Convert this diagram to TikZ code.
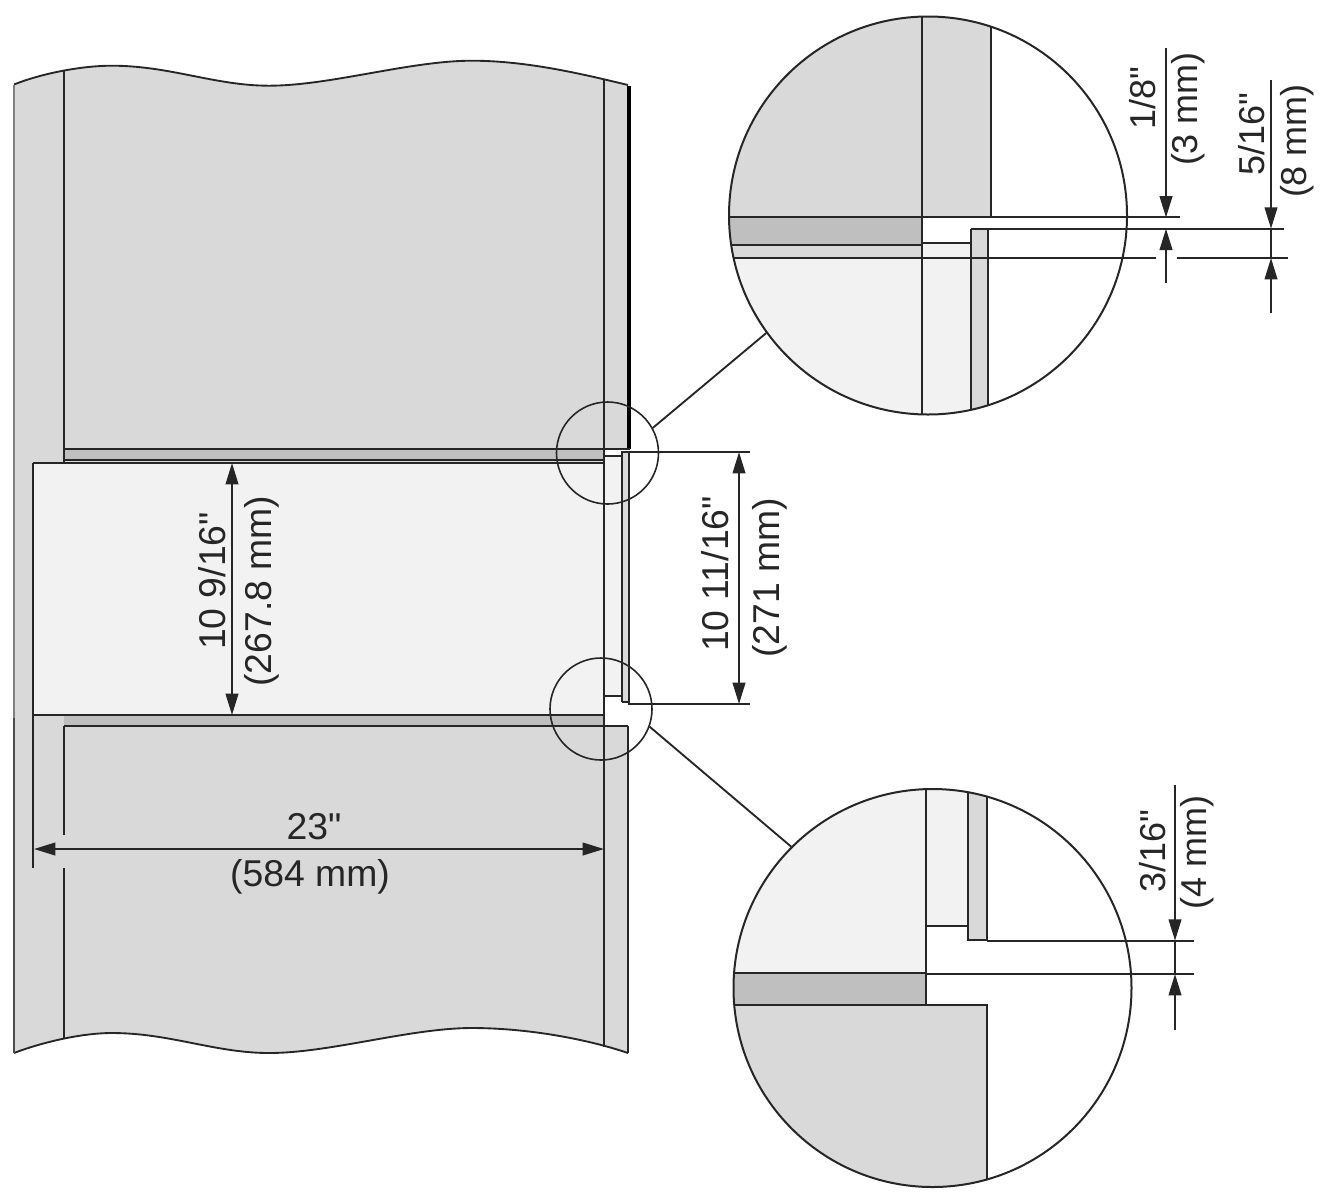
\documentclass[tikz,border=0pt]{standalone}
\usepackage{fontspec}
\newfontfamily\dimfont{Liberation Sans}
\usetikzlibrary{arrows.meta}
\definecolor{wallgray}{HTML}{D9D9D9}
\definecolor{bandgray}{HTML}{BFBFBF}
\definecolor{ovenlight}{HTML}{F2F2F2}
\definecolor{inkgray}{HTML}{262626}
\tikzset{
  outline/.style = {draw = inkgray, line width = 1.4pt},
  dimline/.style = {draw = inkgray, line width = 1.4pt},
  dimarrow/.style = {dimline, -{Triangle[length = 16pt, width = 9.5pt]}},
  dimboth/.style = {dimline, {Triangle[length = 16pt, width = 9.5pt]}-{Triangle[length = 16pt, width = 9.5pt]}},
  dimtext/.style = {inkgray, font = \dimfont\fontsize{28}{30}\selectfont, inner sep = 0pt},
  smalltext/.style = {dimtext, rotate = 90, font = \dimfont\fontsize{27}{30}\selectfont},
  lens/.style = {circle, draw = inkgray, line width = 1.2pt, inner sep = 0pt, minimum size = 76.5pt},
  biglens/.style = {circle, draw = inkgray, line width = 1.5pt, inner sep = 0pt, minimum size = 298.5pt}
}
\begin{document}
\begin{tikzpicture}[x = 0.75pt, y = -0.75pt]
\useasboundingbox (0,0) rectangle (1326,1193);
\def\wavetop{(14,84.5) .. controls (40,74) and (80,65.7) .. (112,65.7) .. controls (170,65.7) and (215,85.7) .. (269,85.7) .. controls (330,85.7) and (410,60.7) .. (472,60.7) .. controls (530,60.7) and (590,76) .. (628,85)}
\def\wavebottom{(628,1053) .. controls (590,1040) and (530,1028) .. (472,1028) .. controls (410,1028) and (330,1053) .. (269,1053) .. controls (215,1053) and (170,1033) .. (112,1033) .. controls (80,1033) and (40,1043) .. (14,1053)}
% wall and oven
\fill[wallgray] \wavetop -- (628,448) -- (604,448) -- (604,463) -- (33,463) -- (33,715) -- (604,715) -- (604,726) -- (628,726) -- \wavebottom -- cycle;
\fill[ovenlight] (33,463) rectangle (604,715);
\fill[bandgray] (64,449) rectangle (604,460);
\fill[bandgray] (64,715) rectangle (604,726);
\fill[ovenlight] (604,456) rectangle (622,696);
\fill[wallgray] (622,452) rectangle (629,702);
\draw[outline] \wavetop;
\draw[outline] \wavebottom;
\draw[outline, draw = gray] (14,84.5) -- (14,718);
\draw[outline, draw = black!70] (14,718) -- (14,1053);
\draw[outline] (64,71) -- (64,463);
\draw[outline] (64,726) -- (64,835);
\draw[outline] (64,868) -- (64,1039);
\draw[outline] (604,79) -- (604,1047);
\draw[black, line width = 2.8pt] (629,86) -- (629,449);
\draw[outline] (628,726) -- (628,1053);
\draw[outline] (64,449) -- (630,449);
\draw[outline] (64,460) -- (604,460);
\draw[outline] (33,463) -- (604,463);
\draw[outline] (33,463) -- (33,868);
\draw[outline] (33,715) -- (604,715);
\draw[outline] (64,726) -- (628,726);
\draw[outline] (604,456) -- (622,456);
\draw[outline] (604,696) -- (622,696);
\draw[outline] (622,702) -- (622,452) -- (750,452);
\draw[outline] (629,452) -- (629,704) -- (750,704);
\draw[outline] (622,702) -- (629,702);
% small lenses
\node[lens] (lensA) at (607.5,453) {};
\node[lens] (lensB) at (601,709) {};
% upper detail
\begin{scope}
\clip (928,215.5) circle (199);
\fill[wallgray] (729,16) rectangle (990.7,217);
\fill[bandgray] (729,217) rectangle (922,245);
\fill[wallgray] (729,245) rectangle (922,258);
\fill[ovenlight] (729,258) rectangle (922,415);
\fill[ovenlight] (922,243) rectangle (971,415);
\fill[wallgray] (971,228.7) rectangle (988,415);
\draw[outline] (922,16) -- (922,415);
\draw[outline] (990.7,16) -- (990.7,217);
\draw[outline] (729,245) -- (922,245);
\draw[outline] (922,243) -- (971,243);
\draw[outline] (971,415) -- (971,228.7);
\draw[outline] (988,228.7) -- (988,415);
\draw[outline] (729,217) -- (922,217);
\draw[outline] (729,258) -- (922,258);
\end{scope}
\node[biglens] (bigA) at (928,215.5) {};
\draw[dimline] (922,217) -- (1180,217);
\draw[dimline] (971,228.7) -- (1284,228.7);
\draw[dimline] (922,258) -- (1156,258);
\draw[dimline] (1177,258) -- (1288,258);
\draw[dimline] (lensA.29) -- (bigA.216);
% lower detail
\begin{scope}
\clip (932.5,988) circle (199);
\fill[ovenlight] (733,789) rectangle (926,973);
\fill[ovenlight] (926,789) rectangle (968,926);
\fill[wallgray] (968,789) rectangle (987,940);
\fill[bandgray] (733,973) rectangle (926,1005);
\fill[wallgray] (733,1005) rectangle (987,1187);
\draw[outline] (926,789) -- (926,1005);
\draw[outline] (926,926) -- (968,926);
\draw[outline] (968,789) -- (968,940) -- (987,940) -- (987,789);
\draw[outline] (733,973) -- (926,973);
\draw[outline] (733,1005) -- (987,1005) -- (987,1187);
\end{scope}
\node[biglens] (bigB) at (932.5,988) {};
\draw[dimline] (987,940.7) -- (1194,940.7);
\draw[dimline] (926,974) -- (1194,974);
\draw[dimline] (lensB.-20) -- (bigB.135);
% dimensions
\coordinate (widthL) at (34,849);
\coordinate (widthR) at (604,849);
\coordinate (openT) at (232,463);
\coordinate (openB) at (232,715);
\coordinate (doorT) at (739,452);
\coordinate (doorB) at (739,704);
\draw[dimboth] (widthL) -- (widthR);
\draw[dimboth] (openT) -- (openB);
\draw[dimboth] (doorT) -- (doorB);
\coordinate (gapAtop) at (1166,48);
\coordinate (gapAup) at (1166,217.5);
\coordinate (gapAlow) at (1166,228.7);
\coordinate (gapAend) at (1166,283);
\draw[dimarrow] (gapAtop) -- (gapAup);
\draw[dimarrow] (gapAend) -- (gapAlow);
\coordinate (gapBtop) at (1271,80);
\coordinate (gapBup) at (1271,228.7);
\coordinate (gapBlow) at (1271,258);
\coordinate (gapBend) at (1271,313);
\draw[dimarrow] (gapBtop) -- (gapBup);
\draw[dimline] (gapBup) -- (gapBlow);
\draw[dimarrow] (gapBend) -- (gapBlow);
\coordinate (gapCtop) at (1175,785);
\coordinate (gapCup) at (1175,940.7);
\coordinate (gapClow) at (1175,974);
\coordinate (gapCend) at (1175,1030);
\draw[dimarrow] (gapCtop) -- (gapCup);
\draw[dimline] (gapCup) -- (gapClow);
\draw[dimarrow] (gapCend) -- (gapClow);
% labels
\node[dimtext] (widthIn) at (314,827) {23"};
\node[dimtext] (widthMm) at (310,877) {(584 mm)};
\node[dimtext, rotate = 90] (openIn) at (212,581) {10 9/16"};
\node[dimtext, rotate = 90] (openMm) at (262,591) {(267.8 mm)};
\node[dimtext, rotate = 90] (doorIn) at (715,574) {10 11/16"};
\node[dimtext, rotate = 90] (doorMm) at (770,578) {(271 mm)};
\node[smalltext] (gapAin) at (1143,98) {1/8"};
\node[smalltext] (gapAmm) at (1188,109) {(3 mm)};
\node[smalltext] (gapBin) at (1252,134) {5/16"};
\node[smalltext] (gapBmm) at (1297,141) {(8 mm)};
\node[smalltext] (gapCin) at (1153,851) {3/16"};
\node[smalltext] (gapCmm) at (1197,852) {(4 mm)};
\end{tikzpicture}
\end{document}
